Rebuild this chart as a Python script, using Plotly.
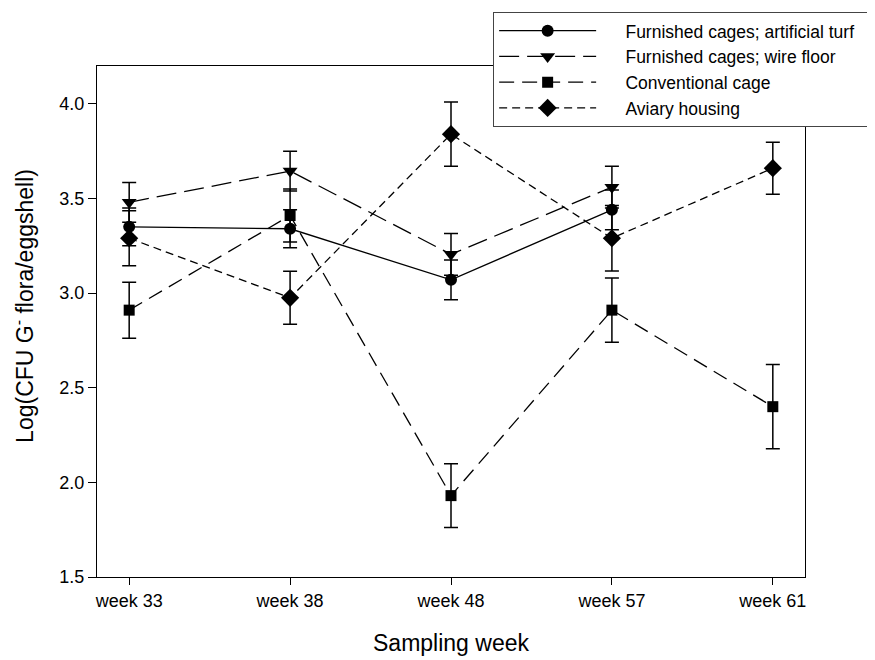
import plotly.graph_objects as go

weeks = ["week 33", "week 38", "week 48", "week 57", "week 61"]
x_pos = [0, 1, 2, 3, 4]
y_ticks = [1.5, 2.0, 2.5, 3.0, 3.5, 4.0]

turf = [3.35, 3.34, 3.07, 3.44, None]
turf_err = [0.10, 0.10, 0.105, 0.105, None]

wire = [3.48, 3.645, 3.205, 3.56, None]
wire_err = [0.105, 0.105, 0.11, 0.11, None]

conv = [2.91, 3.41, 1.93, 2.91, 2.40]
conv_err = [0.148, 0.14, 0.168, 0.17, 0.223]

aviary = [3.29, 2.975, 3.84, 3.29, 3.66]
aviary_err = [0.145, 0.14, 0.17, 0.173, 0.137]

names = ["Furnished cages; artificial turf", "Furnished cages; wire floor",
         "Conventional cage", "Aviary housing"]

series = [
    (names[0], turf, turf_err, "circle", "solid", 12),
    (names[1], wire, wire_err, "triangle-down", "20px,8px", 13),
    (names[2], conv, conv_err, "square", "15px,8px", 11),
    (names[3], aviary, aviary_err, "diamond", "8px,5px", 14),
]

pad = "\u00a0" * 5
tail = "\u00a0" * 2

fig = go.Figure()
for name, vals, errs, sym, dash, msize in series:
    fig.add_trace(go.Scatter(
        x=x_pos, y=vals, name=pad + name + tail, mode="lines+markers",
        line=dict(color="black", width=1.3, dash=dash),
        marker=dict(symbol=sym, size=msize, color="black"),
        error_y=dict(type="data", array=errs, visible=True, color="black",
                     thickness=1.5, width=7),
        connectgaps=False,
    ))

font_family = "Liberation Sans, Arial, sans-serif"
fig.update_layout(
    width=867, height=652,
    margin=dict(l=89, r=70, t=58, b=83, autoexpand=False),
    paper_bgcolor="white", plot_bgcolor="white",
    font=dict(family=font_family, size=18, color="black"),
    showlegend=True,
    legend=dict(
        x=1.092, y=1.106, xanchor="right", yanchor="top",
        bgcolor="white", bordercolor="#444", borderwidth=1,
        font=dict(size=17.5), itemwidth=97, tracegroupgap=0,
    ),
    xaxis=dict(
        range=[-0.2, 4.2], tickmode="array", tickvals=x_pos, ticktext=weeks,
        showgrid=False, zeroline=False, showline=True, linecolor="black",
        linewidth=1.3, mirror=True, ticks="outside", ticklen=7, tickwidth=1.3,
        tickcolor="black",
    ),
    yaxis=dict(
        range=[1.5, 4.2], tickmode="array", tickvals=y_ticks,
        tickformat=".1f",
        showgrid=False, zeroline=False, showline=True, linecolor="black",
        linewidth=1.3, mirror=True, ticks="outside", ticklen=8, tickwidth=1.3,
        tickcolor="black",
    ),
    annotations=[
        dict(text="Sampling week", xref="paper", yref="paper", x=0.5, y=-0.129,
             xanchor="center", yanchor="middle", showarrow=False,
             font=dict(size=23)),
        dict(text="Log(CFU G<sup>-</sup> flora/eggshell)", xref="paper", yref="paper",
             x=-0.1035, y=0.53, xanchor="center", yanchor="middle", textangle=-90,
             showarrow=False, font=dict(size=23)),
    ],
)

fig.write_html("out.html")
